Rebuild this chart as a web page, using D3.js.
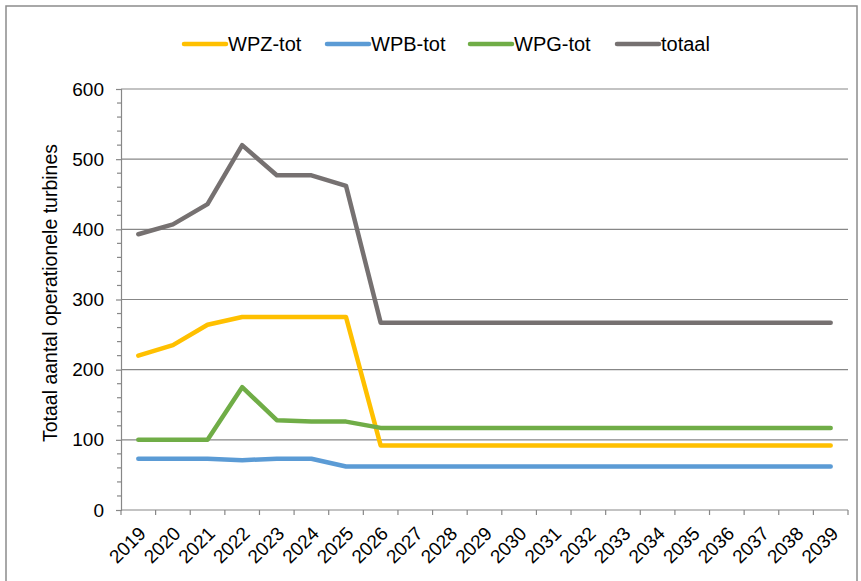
<!DOCTYPE html>
<html lang="nl">
<head>
<meta charset="UTF-8">
<script src="https://d3js.org/d3.v7.min.js"></script>
<title>Operationele turbines</title>
<style>
  body { margin: 0; background: #fff; }
  svg text { font-family: "Liberation Sans", Arial, sans-serif; fill: #000; }
</style>
</head>
<body>
<svg width="861" height="581"></svg>
<script>
var years = ["2019","2020","2021","2022","2023","2024","2025","2026","2027","2028","2029",
             "2030","2031","2032","2033","2034","2035","2036","2037","2038","2039"];
var wpz = [220,235,264,275,275,275,275,92,92,92,92,92,92,92,92,92,92,92,92,92,92];
var wpb = [73,73,73,71,73,73,62,62,62,62,62,62,62,62,62,62,62,62,62,62,62];
var wpg = [100,100,100,175,128,126,126,117,117,117,117,117,117,117,117,117,117,117,117,117,117];
var totaal = [393,407,436,520,477,477,462,267,267,267,267,267,267,267,267,267,267,267,267,267,267];
var yTicks = [0,100,200,300,400,500,600];

var series = [
  {name: "WPZ-tot", values: wpz, color: "#FFC000"},
  {name: "WPB-tot", values: wpb, color: "#5B9BD5"},
  {name: "WPG-tot", values: wpg, color: "#70AD47"},
  {name: "totaal", values: totaal, color: "#767171"}
];

var svg = d3.select("svg");
var pLeft = 121, pRight = 848, pTop = 89, pBottom = 510;

// rand om de grafiek
svg.append("rect").attr("x", 6).attr("y", 6).attr("width", 851).attr("height", 590)
  .attr("fill", "none").attr("stroke", "#8c8c8c").attr("stroke-width", 1.5);

var x = d3.scaleBand().domain(years).range([pLeft, pRight]);
var y = d3.scaleLinear().domain([0, 600]).range([pBottom, pTop]);

// rasterlijnen
svg.append("g").selectAll("line").data(yTicks.slice(1)).join("line")
  .attr("x1", pLeft).attr("x2", pRight)
  .attr("y1", d => y(d)).attr("y2", d => y(d))
  .attr("stroke", "#878787").attr("stroke-width", 1.2);

// kleine streepjes
svg.append("g").selectAll("line").data(d3.range(0, 601, 20).filter(d => d % 100)).join("line")
  .attr("x1", pLeft - 4).attr("x2", pLeft)
  .attr("y1", d => y(d)).attr("y2", d => y(d))
  .attr("stroke", "#878787").attr("stroke-width", 1.2);

// y-as
var yAxis = svg.append("g").attr("transform", "translate(" + pLeft + ",0)")
  .call(d3.axisLeft(y).tickValues(yTicks).tickSize(5).tickPadding(12));
yAxis.select(".domain").attr("stroke", "#878787").attr("stroke-width", 1.2);
yAxis.selectAll(".tick line").attr("stroke", "#878787").attr("stroke-width", 1.2);
yAxis.selectAll("text").attr("font-size", 19).attr("font-family", "Liberation Sans, Arial, sans-serif").attr("fill", "#000");

// x-as
var xAxisG = svg.append("g").attr("transform", "translate(0," + pBottom + ")");
xAxisG.append("line").attr("x1", pLeft).attr("x2", pRight)
  .attr("stroke", "#878787").attr("stroke-width", 1.2);
var edges = years.map(d => x(d)).concat([pRight]);
xAxisG.selectAll("line.tk").data(edges).join("line").attr("class", "tk")
  .attr("x1", d => d).attr("x2", d => d).attr("y1", 0).attr("y2", 5)
  .attr("stroke", "#878787").attr("stroke-width", 1.2);
xAxisG.selectAll("text").data(years).join("text")
  .attr("transform", d => "translate(" + (x(d) + x.bandwidth() / 2 + 4) + ",20) rotate(-45)")
  .attr("text-anchor", "end").attr("dy", "0.35em")
  .attr("font-size", 19).text(d => d);

// y-titel
svg.append("text")
  .attr("transform", "translate(57,293) rotate(-90)")
  .attr("text-anchor", "middle").attr("font-size", 19.5)
  .text("Totaal aantal operationele turbines");

// lijnen
var line = d3.line()
  .x((d, i) => x(years[i]) + x.bandwidth() / 2)
  .y(d => y(d));
svg.append("g").selectAll("path").data(series).join("path")
  .attr("d", d => line(d.values))
  .attr("fill", "none").attr("stroke", d => d.color)
  .attr("stroke-width", 4.5).attr("stroke-linejoin", "round").attr("stroke-linecap", "round");

// legenda
var legendX = [184, 327, 470, 617];
var leg = svg.append("g").selectAll("g").data(series).join("g")
  .attr("transform", (d, i) => "translate(" + legendX[i] + ",44)");
leg.append("line").attr("x1", 0).attr("x2", 42)
  .attr("stroke", d => d.color).attr("stroke-width", 4.5).attr("stroke-linecap", "round");
leg.append("text").attr("x", 44).attr("dy", "0.35em").attr("font-size", 20)
  .text(d => d.name);
</script>
</body>
</html>
